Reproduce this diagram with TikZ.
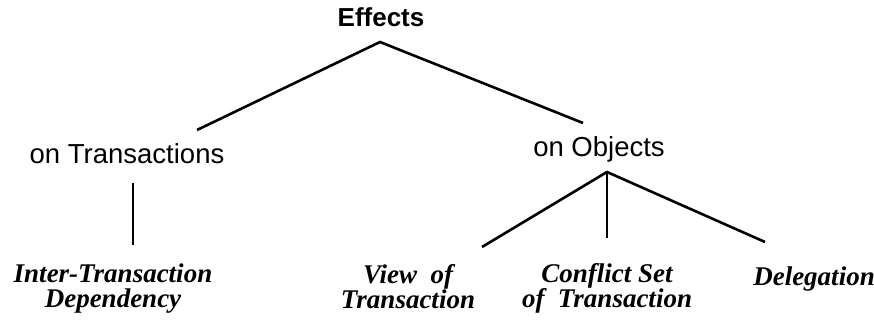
\documentclass[tikz,border=0pt]{standalone}
\usepackage{fontspec}
\setmainfont{Liberation Serif}
\setsansfont{Liberation Sans}
\usepackage{tikz}
\usetikzlibrary{calc}

\begin{document}
\begin{tikzpicture}[x=1pt, y=-1pt,
		topnode/.style={inner sep=0, anchor=base, font=\sffamily\bfseries\fontsize{26}{28}\selectfont},
		midnode/.style={inner sep=0, anchor=base, font=\sffamily\fontsize{27.5}{30}\selectfont},
		leafnode/.style={inner sep=0, anchor=base, align=center, font=\bfseries\itshape\fontsize{27}{25}\selectfont},
		branch/.style={line width=2.6pt}]
			\useasboundingbox (0,0) rectangle (874,321);

			% Labels
			\node[topnode] (effects) at (381,27) {Effects};
			\node[midnode] (ontrans) at (127,163) {on Transactions};
			\node[midnode] (onobj) at (599,156) {on Objects};
			\node[leafnode] (intertrans) at (113,307) {Inter-Transaction\\Dependency};
			\node[leafnode] (viewof) at (408,308) {View~ of\\Transaction};
			\node[leafnode] (conflict) at (607,307) {Conflict Set\\of~ Transaction};
			\node[leafnode] (deleg) at (814,285) {Delegation};

			% Forks
			\coordinate (efork) at ($(effects.base)+(-1,15)$);
			\coordinate (ofork) at ($(onobj.base)+(8,16)$);

			% Branches
			\draw[branch] ($(ontrans.base)+(70,-33)$) -- (efork) -- ($(onobj.base)+(-16,-33)$);
			\draw[branch] ($(ontrans.base)+(6,20)$) -- ($(intertrans.base)+(20,-62)$);
			\draw[branch] ($(viewof.base)+(74,-61)$) -- (ofork) -- ($(deleg.base)+(-49,-43)$);
			\draw[branch] (ofork) -- ($(conflict.base)+(0,-69)$);
		\end{tikzpicture}
\end{document}
